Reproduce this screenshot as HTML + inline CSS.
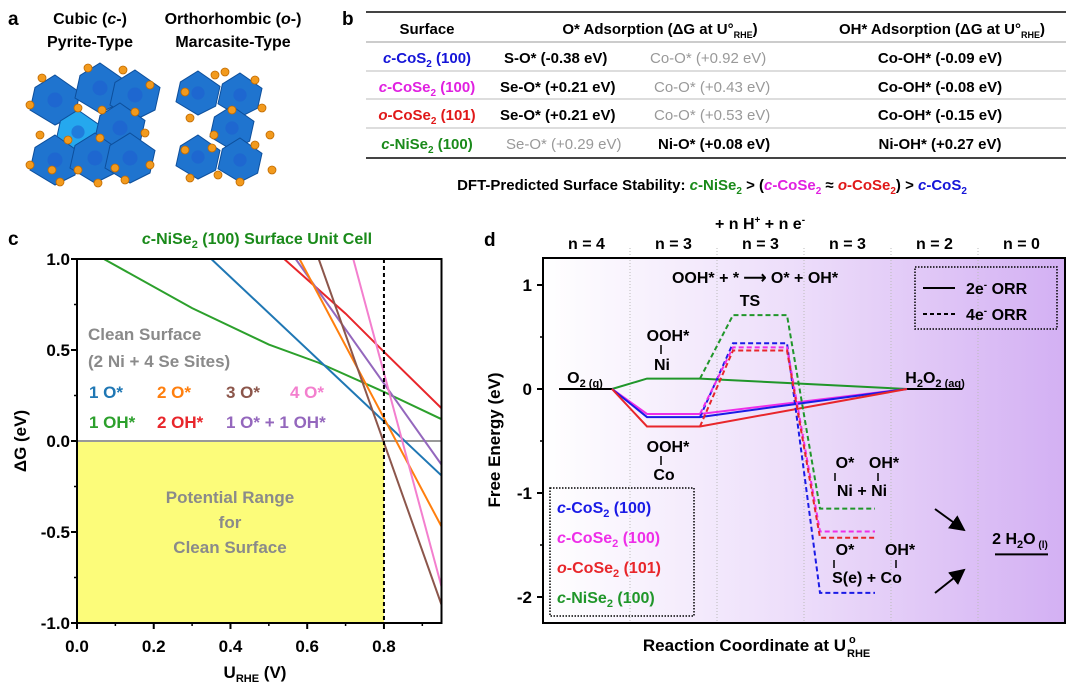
<!DOCTYPE html>
<html><head><meta charset="utf-8"><style>
html,body{margin:0;padding:0;background:#fff;}
svg{display:block;font-family:"Liberation Sans",Arial,sans-serif;font-weight:bold;}
</style></head><body>
<svg id="fig" width="1080" height="687" viewBox="0 0 1080 687" xmlns="http://www.w3.org/2000/svg">
<defs>
<linearGradient id="pg" x1="0" x2="1" y1="0" y2="0">
<stop offset="0" stop-color="#ffffff"/><stop offset="0.5" stop-color="#ecdcfa"/><stop offset="1" stop-color="#d3b0f3"/>
</linearGradient>
<marker id="ah" markerWidth="8" markerHeight="8" refX="7" refY="4" orient="auto"><path d="M0,0 L8,4 L0,8 Z" fill="#000"/></marker>
</defs>

<!-- Panel a -->
<g>
<text x="8" y="25" font-size="19">a</text>
<text x="90" y="24" font-size="16" text-anchor="middle">Cubic (<tspan font-style="italic">c</tspan>-)</text>
<text x="90" y="47" font-size="16" text-anchor="middle">Pyrite-Type</text>
<text x="233" y="24" font-size="16" text-anchor="middle">Orthorhombic (<tspan font-style="italic">o</tspan>-)</text>
<text x="233" y="47" font-size="16" text-anchor="middle">Marcasite-Type</text>
<g id="crystals"></g>
</g>

<!-- Panel b -->
<g font-size="15">
<text x="342" y="25" font-size="19">b</text>
<line x1="366" y1="12" x2="1066" y2="12" stroke="#444" stroke-width="2"/>
<line x1="366" y1="42" x2="1066" y2="42" stroke="#999" stroke-width="1"/>
<line x1="366" y1="71" x2="1066" y2="71" stroke="#bbb" stroke-width="1"/>
<line x1="366" y1="99" x2="1066" y2="99" stroke="#bbb" stroke-width="1"/>
<line x1="366" y1="128" x2="1066" y2="128" stroke="#bbb" stroke-width="1"/>
<line x1="366" y1="158" x2="1066" y2="158" stroke="#444" stroke-width="2"/>
<g text-anchor="middle">
<text x="427" y="34">Surface</text>
<text x="660" y="34">O* Adsorption (ΔG at U°<tspan font-size="9" dy="4">RHE</tspan><tspan dy="-4">)</tspan></text>
<text x="942" y="34">OH* Adsorption (ΔG at U°<tspan font-size="9" dy="4">RHE</tspan><tspan dy="-4">)</tspan></text>
</g>
<g>
<text x="427" y="63" text-anchor="middle" fill="#1515d8"><tspan font-style="italic">c</tspan>-CoS<tspan font-size="10" dy="4">2</tspan><tspan dy="-4"> (100)</tspan></text>
<text x="504" y="63">S-O* (-0.38 eV)</text>
<text x="650" y="63" fill="#999" font-weight="normal">Co-O* (+0.92 eV)</text>
<text x="940" y="63" text-anchor="middle">Co-OH* (-0.09 eV)</text>
</g>
<g>
<text x="427" y="92" text-anchor="middle" fill="#e020e0"><tspan font-style="italic">c</tspan>-CoSe<tspan font-size="10" dy="4">2</tspan><tspan dy="-4"> (100)</tspan></text>
<text x="500" y="92">Se-O* (+0.21 eV)</text>
<text x="654" y="92" fill="#999" font-weight="normal">Co-O* (+0.43 eV)</text>
<text x="940" y="92" text-anchor="middle">Co-OH* (-0.08 eV)</text>
</g>
<g>
<text x="427" y="120" text-anchor="middle" fill="#e01818"><tspan font-style="italic">o</tspan>-CoSe<tspan font-size="10" dy="4">2</tspan><tspan dy="-4"> (101)</tspan></text>
<text x="500" y="120">Se-O* (+0.21 eV)</text>
<text x="654" y="120" fill="#999" font-weight="normal">Co-O* (+0.53 eV)</text>
<text x="940" y="120" text-anchor="middle">Co-OH* (-0.15 eV)</text>
</g>
<g>
<text x="427" y="149" text-anchor="middle" fill="#1a8a1a"><tspan font-style="italic">c</tspan>-NiSe<tspan font-size="10" dy="4">2</tspan><tspan dy="-4"> (100)</tspan></text>
<text x="506" y="149" fill="#999" font-weight="normal">Se-O* (+0.29 eV)</text>
<text x="658" y="149">Ni-O* (+0.08 eV)</text>
<text x="940" y="149" text-anchor="middle">Ni-OH* (+0.27 eV)</text>
</g>
<text x="712" y="190" text-anchor="middle" font-size="15">DFT-Predicted Surface Stability: <tspan fill="#1a8a1a"><tspan font-style="italic">c</tspan>-NiSe<tspan font-size="10" dy="4">2</tspan></tspan><tspan dy="-4"> &gt; (</tspan><tspan fill="#e020e0"><tspan font-style="italic">c</tspan>-CoSe<tspan font-size="10" dy="4">2</tspan></tspan><tspan dy="-4"> ≈ </tspan><tspan fill="#e01818"><tspan font-style="italic">o</tspan>-CoSe<tspan font-size="10" dy="4">2</tspan></tspan><tspan dy="-4">) &gt; </tspan><tspan fill="#1515d8"><tspan font-style="italic">c</tspan>-CoS<tspan font-size="10" dy="4">2</tspan></tspan></text>
</g>

<!-- Panel c -->
<g id="pc">
<text x="8" y="245" font-size="19">c</text>
<text x="257" y="244" font-size="16" fill="#1a8a1a" text-anchor="middle"><tspan font-style="italic">c</tspan>-NiSe<tspan font-size="11" dy="4">2</tspan><tspan dy="-4"> (100) Surface Unit Cell</tspan></text>
</g>

<!-- Panel d -->
<g id="pd">
<text x="484" y="246" font-size="19">d</text>
</g>
</svg>
<script>
const NS='http://www.w3.org/2000/svg';
function mk(parent,tag,attrs,text){const e=document.createElementNS(NS,tag);for(const k in attrs)e.setAttribute(k,attrs[k]);if(text!==undefined)e.textContent=text;parent.appendChild(e);return e;}

/* ---------- Panel a: crystal sketches ---------- */
(function(){
const g=document.getElementById('crystals');
const cub=[[55,100],[100,88],[135,95],[78,132],[120,128],[55,160],[95,158],[130,158]];
const ort=[[198,93],[240,95],[232,128],[198,157],[240,160]];
function octa(cx,cy,r,col){
  const p=mk(g,'polygon',{points:`${cx},${cy-r} ${cx+r},${cy-r*0.3} ${cx+r*0.8},${cy+r*0.6} ${cx},${cy+r} ${cx-r},${cy+r*0.4} ${cx-r*0.8},${cy-r*0.5}`,fill:col,stroke:'#0d4f9c','stroke-width':1});
  
  
  mk(g,'circle',{cx:cx,cy:cy,r:r*0.3,fill:'#1e5fd0',opacity:0.6});
}
cub.forEach((c,i)=>octa(c[0],c[1],i==3?22:25,i==3?'#25a8ee':'#1f74cf'));
ort.forEach(c=>octa(c[0],c[1],22,'#1f74cf'));
const dots=[[42,78],[88,68],[123,70],[150,85],[30,105],[78,108],[102,110],[135,112],[40,135],[68,140],[100,138],[145,133],[30,165],[52,170],[78,170],[115,168],[150,165],[60,182],[98,183],[125,180],[185,92],[215,75],[225,72],[255,80],[190,118],[232,110],[262,108],[214,135],[270,135],[185,150],[212,148],[255,145],[190,178],[218,175],[240,182],[272,170]];
dots.forEach(d=>{const c=mk(g,'circle',{cx:d[0],cy:d[1],r:4,fill:'#f29a1d',stroke:'#c06a00','stroke-width':0.8});

});
})();

/* ---------- Panel c data ---------- */
const cSeriesNames=['1 O*','2 O*','3 O*','4 O*','1 OH*','2 OH*','1 O* + 1 OH*'];
const cU_1O=[0.35,0.95];      const cG_1O=[1.0,-0.19];
const cU_2O=[0.58,0.95];      const cG_2O=[1.0,-0.47];
const cU_3O=[0.63,0.95];      const cG_3O=[1.0,-0.9];
const cU_4O=[0.72,0.95];      const cG_4O=[1.0,-0.8];
const cU_1OH=[0.07,0.3,0.5,0.63,0.8,0.95]; const cG_1OH=[1.0,0.73,0.53,0.43,0.27,0.12];
const cU_2OH=[0.54,0.7,0.8,0.95]; const cG_2OH=[1.0,0.7,0.49,0.18];
const cU_OOH=[0.57,0.95];     const cG_OOH=[1.0,-0.13];
const cXTicks=[0.0,0.2,0.4,0.6,0.8];
const cYTicks=[1.0,0.5,0.0,-0.5,-1.0];
const cBoundary=0.8;

(function(){
const g=document.getElementById('pc');
const X0=77,X1=441.5,Y0=623,Y1=259, xmin=0,xmax=0.95,ymin=-1,ymax=1;
const sx=v=>X0+(v-xmin)/(xmax-xmin)*(X1-X0);
const sy=v=>Y0-(v-ymin)/(ymax-ymin)*(Y0-Y1);
let e=mk(g,'rect',{x:sx(0),y:sy(0),width:sx(cBoundary)-sx(0),height:sy(-1)-sy(0),fill:'#fcfc7a'});


e=mk(g,'line',{x1:X0,x2:X1,y1:sy(0),y2:sy(0),stroke:'#999','stroke-width':2});


const cols=['#1f77b4','#ff7f0e','#8c564b','#f37fce','#2ca02c','#e8262b','#9467bd'];
const xs=[cU_1O,cU_2O,cU_3O,cU_4O,cU_1OH,cU_2OH,cU_OOH], ys=[cG_1O,cG_2O,cG_3O,cG_4O,cG_1OH,cG_2OH,cG_OOH];
const order=[4,0,5,6,1,2,3];
const clip=mk(g,'clipPath',{id:'cclip'});mk(clip,'rect',{x:X0,y:Y1,width:X1-X0,height:Y0-Y1});
order.forEach(i=>{
  const pts=xs[i].map((u,j)=>sx(u)+','+sy(ys[i][j])).join(' ');
  const l=mk(g,'polyline',{points:pts,fill:'none',stroke:cols[i],'stroke-width':2,'clip-path':'url(#cclip)'});
  
  
});
e=mk(g,'line',{x1:sx(cBoundary),x2:sx(cBoundary),y1:Y1,y2:Y0,stroke:'#000','stroke-width':2,'stroke-dasharray':'4,3'});


e=mk(g,'rect',{x:X0,y:Y1,width:X1-X0,height:Y0-Y1,fill:'none',stroke:'#000','stroke-width':2});


cXTicks.forEach(t=>{mk(g,'line',{x1:sx(t),x2:sx(t),y1:Y0,y2:Y0+6,stroke:'#000','stroke-width':2});
  const tl=mk(g,'text',{x:sx(t),y:652,'font-size':17,'text-anchor':'middle'},t.toFixed(1));
  
  
  if(t+0.1<xmax) mk(g,'line',{x1:sx(t+0.1),x2:sx(t+0.1),y1:Y0,y2:Y0+3,stroke:'#000','stroke-width':1.5});});
cYTicks.forEach(t=>{mk(g,'line',{x1:X0-6,x2:X0,y1:sy(t),y2:sy(t),stroke:'#000','stroke-width':2});
  const tl=mk(g,'text',{x:70,y:sy(t)+6,'font-size':17,'text-anchor':'end'},t.toFixed(1));
  
  
  if(t>-1) mk(g,'line',{x1:X0-3,x2:X0,y1:sy(t-0.25),y2:sy(t-0.25),stroke:'#000','stroke-width':1.5});});
let t=mk(g,'text',{x:255,y:678,'font-size':17,'text-anchor':'middle'});
t.innerHTML='U<tspan font-size="11" dy="4">RHE</tspan><tspan dy="-4"> (V)</tspan>';


t=mk(g,'text',{x:0,y:0,'font-size':17,'text-anchor':'middle',transform:'translate(26,441) rotate(-90)'},'ΔG (eV)');


const labs=[['Clean Surface',88,340,'#8a8a8a'],['(2 Ni + 4 Se Sites)',88,367,'#8a8a8a'],['1 O*',89,398,cols[0]],['2 O*',157,398,cols[1]],['3 O*',226,398,cols[2]],['4 O*',290,398,cols[3]],['1 OH*',89,428,cols[4]],['2 OH*',157,428,cols[5]],['1 O* + 1 OH*',226,428,cols[6]]];
labs.forEach(l=>{const e=mk(g,'text',{x:l[1],y:l[2],'font-size':17,fill:l[3]},l[0]);

});
[['Potential Range',503],['for',528],['Clean Surface',553]].forEach(l=>{const e=mk(g,'text',{x:230,y:l[1],'font-size':17,fill:'#8a8a8a','text-anchor':'middle'},l[0]);

});
})();

/* ---------- Panel d data ---------- */
const dSurfaces=['c-CoS2 (100)','c-CoSe2 (100)','o-CoSe2 (101)','c-NiSe2 (100)'];
const dOOH=[-0.27,-0.24,-0.36,0.10];
const dTS=[0.44,0.40,0.37,0.71];
const dFinal=[-1.96,-1.37,-1.43,-1.15];
const dH2O=-1.59;
const dYTicks=[1,0,-1,-2];
const dNLabels=['n = 4','n = 3','n = 3','n = 3','n = 2','n = 0'];

(function(){
const g=document.getElementById('pd');
const X0=543,X1=1065,Y0=623,Y1=258;
const sy=v=>389-v*104;
const cx=[543,630,717,804,891,978,1065];
let e=mk(g,'rect',{x:X0,y:Y1,width:X1-X0,height:Y0-Y1,fill:'url(#pg)'});


for(let i=1;i<6;i++) mk(g,'line',{x1:cx[i],x2:cx[i],y1:248,y2:Y0,stroke:'#bbb','stroke-width':1,'stroke-dasharray':'1,2'});
dNLabels.forEach((n,i)=>{const t=mk(g,'text',{x:(cx[i]+cx[i+1])/2,y:249,'font-size':16,'text-anchor':'middle'},n);

});
let t=mk(g,'text',{x:760,y:229,'font-size':16,'text-anchor':'middle'});
t.innerHTML='+ n H<tspan font-size="10" dy="-6">+</tspan><tspan dy="6"> + n e</tspan><tspan font-size="10" dy="-6">-</tspan>';


const cols=['#1a1ae6','#ee2ee8','#e8262b','#20962a'];
const lvl={o2:[559,612],ooh:[647,700],ts:[733,787],fin:[820,875],h2o2:[907,962],w:[995,1048]};
e=mk(g,'line',{x1:lvl.o2[0],x2:lvl.o2[1],y1:sy(0),y2:sy(0),stroke:'#000','stroke-width':2});


e=mk(g,'line',{x1:lvl.h2o2[0],x2:lvl.h2o2[1],y1:sy(0),y2:sy(0),stroke:'#000','stroke-width':2});


e=mk(g,'line',{x1:lvl.w[0],x2:lvl.w[1],y1:sy(dH2O),y2:sy(dH2O),stroke:'#000','stroke-width':2});


[3,1,0,2].forEach(i=>{
  const p2=mk(g,'polyline',{points:`${lvl.o2[1]},${sy(0)} ${lvl.ooh[0]},${sy(dOOH[i])} ${lvl.ooh[1]},${sy(dOOH[i])} ${lvl.h2o2[0]},${sy(0)}`,fill:'none',stroke:cols[i],'stroke-width':2});
  
  
});
[3,0,1,2].forEach(i=>{
  const p4=mk(g,'polyline',{points:`${lvl.ooh[1]},${sy(dOOH[i])} ${lvl.ts[0]},${sy(dTS[i])} ${lvl.ts[1]},${sy(dTS[i])} ${lvl.fin[0]},${sy(dFinal[i])} ${lvl.fin[1]},${sy(dFinal[i])}`,fill:'none',stroke:cols[i],'stroke-width':2,'stroke-dasharray':'5,3'});
  
  
});
e=mk(g,'rect',{x:X0,y:Y1,width:X1-X0,height:Y0-Y1,fill:'none',stroke:'#000','stroke-width':2});


dYTicks.forEach(v=>{mk(g,'line',{x1:X0-6,x2:X0,y1:sy(v),y2:sy(v),stroke:'#000','stroke-width':2});
  const tl=mk(g,'text',{x:532,y:sy(v)+6,'font-size':17,'text-anchor':'end'},String(v));
  
  
  if(v-0.5>-2.2) mk(g,'line',{x1:X0-3,x2:X0,y1:sy(v-0.5),y2:sy(v-0.5),stroke:'#000','stroke-width':1.5});});
t=mk(g,'text',{x:0,y:0,'font-size':17,'text-anchor':'middle',transform:'translate(500,440) rotate(-90)'},'Free Energy (eV)');


t=mk(g,'text',{x:846,y:651,'font-size':17,'text-anchor':'end'},'Reaction Coordinate at U');


t=mk(g,'text',{x:849,y:643,'font-size':11},'o');


t=mk(g,'text',{x:847,y:657,'font-size':11},'RHE');


function lab(x,y,html,name,size,anchor){const e=mk(g,'text',{x:x,y:y,'font-size':size||16,'text-anchor':anchor||'middle'});e.innerHTML=html;

return e;}
lab(755,283,'OOH* + * <tspan font-size="16">⟶</tspan> O* + OH*','ts-reaction-label');
lab(750,306,'TS','ts-label');
lab(585,383,'O<tspan font-size="11" dy="4">2 (g)</tspan>','o2-label');
lab(935,383,'H<tspan font-size="11" dy="4">2</tspan><tspan dy="-4">O</tspan><tspan font-size="11" dy="4">2 (aq)</tspan>','h2o2-label');
lab(668,341,'OOH*','ooh-ni-label');lab(662,370,'Ni','ooh-ni-metal');
mk(g,'line',{x1:661,x2:661,y1:345,y2:354,stroke:'#000','stroke-width':1.5});
lab(668,452,'OOH*','ooh-co-label');lab(664,480,'Co','ooh-co-metal');
mk(g,'line',{x1:661,x2:661,y1:456,y2:465,stroke:'#000','stroke-width':1.5});
lab(845,468,'O*','o-ni-label');lab(884,468,'OH*','oh-ni-label');
lab(862,496,'Ni + Ni','ni-ni-label');
mk(g,'line',{x1:835,x2:835,y1:473,y2:481,stroke:'#000','stroke-width':1.5});
mk(g,'line',{x1:878,x2:878,y1:473,y2:481,stroke:'#000','stroke-width':1.5});
lab(845,555,'O*','o-s-label');lab(900,555,'OH*','oh-co-label');
lab(867,583,'S(e) + Co','s-co-label');
mk(g,'line',{x1:834,x2:834,y1:560,y2:568,stroke:'#000','stroke-width':1.5});
mk(g,'line',{x1:896,x2:896,y1:560,y2:568,stroke:'#000','stroke-width':1.5});
lab(1020,544,'2 H<tspan font-size="11" dy="4">2</tspan><tspan dy="-4">O</tspan><tspan font-size="10" dy="4"> (l)</tspan>','h2o-label');
e=mk(g,'line',{x1:935,y1:509,x2:964,y2:530,stroke:'#000','stroke-width':2,'marker-end':'url(#ah)'});


e=mk(g,'line',{x1:935,y1:593,x2:964,y2:570,stroke:'#000','stroke-width':2,'marker-end':'url(#ah)'});


// ORR legend
e=mk(g,'rect',{x:915,y:267,width:142,height:62,fill:'none',stroke:'#000','stroke-width':1.5,'stroke-dasharray':'1.5,1.5'});


mk(g,'line',{x1:923,x2:955,y1:288,y2:288,stroke:'#000','stroke-width':2});
mk(g,'line',{x1:923,x2:955,y1:314,y2:314,stroke:'#000','stroke-width':2,'stroke-dasharray':'4,3'});
lab(966,294,'2e<tspan font-size="10" dy="-6">-</tspan><tspan dy="6"> ORR</tspan>','legend-2e','16','start');
lab(966,320,'4e<tspan font-size="10" dy="-6">-</tspan><tspan dy="6"> ORR</tspan>','legend-4e','16','start');
// Surface legend
e=mk(g,'rect',{x:550,y:488,width:144,height:128,fill:'none',stroke:'#000','stroke-width':1.5,'stroke-dasharray':'1.5,1.5'});


const lt=[['c','CoS','(100)'],['c','CoSe','(100)'],['o','CoSe','(101)'],['c','NiSe','(100)']];
lt.forEach((l,i)=>{const e=mk(g,'text',{x:557,y:513+i*30,'font-size':16,fill:cols[i]});
e.innerHTML=`<tspan font-style="italic">${l[0]}</tspan>-${l[1]}<tspan font-size="11" dy="4">2</tspan><tspan dy="-4"> ${l[2]}</tspan>`;

});
})();
</script>
</body></html>
